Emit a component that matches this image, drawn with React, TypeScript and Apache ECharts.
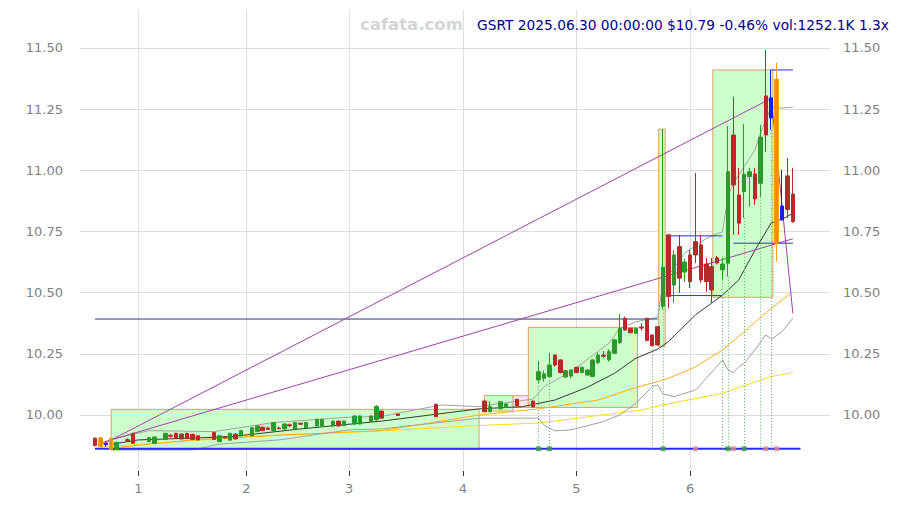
import React, { useEffect, useRef } from 'react';
import * as echarts from 'echarts';

// trading-day index k: 0 = 2025-01-02 (first trading day of January)
const monthStartDays = [0, 20, 39, 60, 81, 102];
const monthLabels = ['1', '2', '3', '4', '5', '6'];
const priceTicks = [10.0, 10.25, 10.5, 10.75, 11.0, 11.25, 11.5];

// [k, open, close, low, high]
const candles: number[][] = [
  [-8, 9.905, 9.875, 9.872, 9.908],
  [-7, 9.907, 9.87, 9.866, 9.91],
  [-6, 9.884, 9.878, 9.87, 9.888],
  [-5, 9.905, 9.86, 9.857, 9.907],
  [-4, 9.86, 9.888, 9.857, 9.891],
  [-2, 9.899, 9.894, 9.889, 9.905],
  [-1, 9.925, 9.884, 9.882, 9.927],
  [2, 9.891, 9.907, 9.889, 9.909],
  [3, 9.884, 9.91, 9.882, 9.912],
  [5, 9.9, 9.925, 9.898, 9.927],
  [6, 9.917, 9.913, 9.907, 9.922],
  [7, 9.925, 9.905, 9.903, 9.927],
  [8, 9.922, 9.902, 9.9, 9.924],
  [9, 9.925, 9.905, 9.903, 9.927],
  [10, 9.921, 9.9, 9.898, 9.923],
  [11, 9.915, 9.898, 9.896, 9.917],
  [14, 9.928, 9.9, 9.898, 9.93],
  [15, 9.891, 9.915, 9.889, 9.917],
  [16, 9.911, 9.906, 9.904, 9.913],
  [17, 9.897, 9.925, 9.895, 9.927],
  [18, 9.922, 9.902, 9.9, 9.924],
  [19, 9.914, 9.936, 9.912, 9.938],
  [21, 9.914, 9.948, 9.912, 9.95],
  [22, 9.932, 9.955, 9.93, 9.957],
  [23, 9.95, 9.936, 9.934, 9.952],
  [24, 9.947, 9.941, 9.939, 9.952],
  [25, 9.936, 9.969, 9.934, 9.971],
  [26, 9.947, 9.944, 9.941, 9.952],
  [27, 9.943, 9.963, 9.941, 9.965],
  [28, 9.96, 9.956, 9.95, 9.966],
  [29, 9.943, 9.969, 9.941, 9.971],
  [30, 9.966, 9.962, 9.96, 9.969],
  [31, 9.948, 9.969, 9.946, 9.971],
  [33, 9.955, 9.982, 9.953, 9.984],
  [34, 9.955, 9.982, 9.953, 9.984],
  [36, 9.955, 9.975, 9.953, 9.977],
  [37, 9.975, 9.955, 9.953, 9.977],
  [38, 9.956, 9.975, 9.954, 9.977],
  [40, 9.963, 9.996, 9.961, 9.998],
  [41, 9.963, 9.996, 9.961, 9.998],
  [43, 9.973, 9.996, 9.971, 9.998],
  [44, 9.98, 10.035, 9.978, 10.04],
  [45, 10.016, 9.987, 9.985, 10.018],
  [48, 10.004, 9.998, 9.997, 10.005],
  [55, 10.044, 9.993, 9.991, 10.046],
  [64, 10.057, 10.013, 10.011, 10.059],
  [65, 10.013, 10.034, 10.011, 10.057],
  [67, 10.025, 10.054, 10.023, 10.056],
  [68, 10.031, 10.045, 10.029, 10.047],
  [70, 10.064, 10.038, 10.036, 10.066],
  [73, 10.057, 10.033, 10.031, 10.059],
  [74, 10.143, 10.177, 10.13, 10.221],
  [75, 10.15, 10.168, 10.136, 10.181],
  [76, 10.157, 10.204, 10.155, 10.253],
  [77, 10.245, 10.204, 10.197, 10.247],
  [78, 10.225, 10.173, 10.17, 10.227],
  [79, 10.155, 10.181, 10.153, 10.183],
  [80, 10.159, 10.184, 10.15, 10.186],
  [81, 10.195, 10.173, 10.171, 10.197],
  [82, 10.173, 10.195, 10.171, 10.197],
  [83, 10.163, 10.184, 10.161, 10.186],
  [84, 10.157, 10.225, 10.155, 10.227],
  [85, 10.214, 10.245, 10.208, 10.255],
  [86, 10.245, 10.24, 10.232, 10.262],
  [87, 10.225, 10.259, 10.218, 10.269],
  [88, 10.252, 10.307, 10.25, 10.309],
  [89, 10.296, 10.354, 10.29, 10.413],
  [90, 10.395, 10.347, 10.345, 10.402],
  [91, 10.354, 10.336, 10.334, 10.356],
  [92, 10.334, 10.354, 10.332, 10.356],
  [93, 10.36, 10.355, 10.345, 10.375],
  [94, 10.395, 10.304, 10.302, 10.397],
  [95, 10.327, 10.283, 10.281, 10.329],
  [96, 10.361, 10.286, 10.284, 10.363],
  [97, 10.444, 10.604, 10.43, 11.168],
  [98, 10.736, 10.484, 10.437, 10.737],
  [99, 10.531, 10.654, 10.458, 10.674],
  [100, 10.688, 10.559, 10.499, 10.736],
  [101, 10.584, 10.625, 10.544, 10.638],
  [102, 10.654, 10.545, 10.519, 10.674],
  [103, 10.708, 10.654, 10.621, 10.989],
  [104, 10.695, 10.552, 10.54, 10.736],
  [105, 10.617, 10.545, 10.503, 10.642],
  [106, 10.606, 10.511, 10.458, 10.642],
  [107, 10.642, 10.621, 10.615, 10.65],
  [108, 10.593, 10.617, 10.552, 10.642],
  [109, 10.62, 10.994, 10.565, 11.181],
  [110, 11.144, 10.94, 10.736, 11.301],
  [111, 10.899, 10.784, 10.736, 11.01],
  [112, 10.913, 10.984, 10.805, 11.189],
  [113, 10.974, 10.994, 10.851, 11.01],
  [114, 10.985, 10.883, 10.858, 11.01],
  [115, 10.947, 11.135, 10.892, 11.185],
  [116, 11.304, 11.144, 11.076, 11.492],
  [117, 11.296, 11.214, 11.165, 11.41],
  [118, 11.372, 10.702, 10.627, 11.44],
  [119, 10.854, 10.797, 10.797, 11.001],
  [120, 10.977, 10.84, 10.805, 11.05],
  [121, 10.903, 10.79, 10.785, 11.01],
];
const orangeDays = [-7, -5, 118];
const blueDays = [-6, 117, 119];

const maBlack = [
  [-5, 9.88], [0, 9.898], [17, 9.911], [30, 9.943], [45, 9.975], [63, 10.025], [71, 10.034],
  [77, 10.061], [83, 10.113], [88, 10.17], [92, 10.232], [96, 10.269], [98, 10.3], [103, 10.409],
  [108, 10.49], [111, 10.552], [114, 10.674], [117, 10.785], [119, 10.8], [121, 10.824],
];
const maOrange = [
  [-5, 9.865], [10, 9.898], [26, 9.918], [45, 9.936], [63, 10.0], [74, 10.025], [85, 10.061],
  [92, 10.113], [96, 10.136], [98, 10.15], [103, 10.196], [108, 10.266], [112, 10.34], [117, 10.436], [121, 10.504],
];
const maYellow = [
  [-7, 9.869], [20, 9.91], [45, 9.935], [63, 9.957], [74, 9.967], [93, 10.02], [97, 10.041],
  [108, 10.089], [117, 10.157], [121, 10.173],
];
const bandUpper = [
  [-5, 9.9], [2, 9.936], [14, 9.932], [25, 9.969], [39, 9.991], [45, 9.994], [56, 10.041], [63, 10.034],
  [65, 10.041], [73, 10.065], [75, 10.116], [80, 10.177], [87, 10.293], [89, 10.354], [92, 10.381],
  [96, 10.399], [97, 10.538], [101, 10.661], [105, 10.722], [108, 10.749], [109, 10.892], [110, 10.947],
  [112, 11.015], [114, 11.083], [115, 11.151], [117, 11.26], [119, 11.254], [121, 11.258],
];
const bandLower = [
  [-5, 9.857], [10, 9.857], [15, 9.881], [26, 9.898], [39, 9.939], [45, 9.943], [63, 9.987], [74, 9.987],
  [75, 9.959], [77, 9.935], [80, 9.939], [86, 9.973], [89, 10.0], [92, 10.048], [95, 10.116], [96, 10.123],
  [97, 10.086], [99, 10.075], [103, 10.102], [105, 10.15], [108, 10.225], [109, 10.184], [110, 10.173],
  [111, 10.197], [112, 10.211], [114, 10.266], [116, 10.327], [117, 10.309], [119, 10.34], [121, 10.395],
];

// [kStart, kEnd, low, high, kind]
const boxes: [number, number, number, number, string][] = [
  [-5, 63, 9.86, 10.023, 'g'],
  [64, 69.3, 10.016, 10.079, 'g'],
  [69.3, 72.1, 10.031, 10.079, 'r'],
  [72.1, 92.3, 10.031, 10.358, 'g'],
  [96.2, 97.4, 10.279, 11.168, 'g'],
  [106.2, 117.3, 10.481, 11.41, 'g'],
];
// [kStart, kEnd, price]
const blueSegments = [
  [98, 108, 10.732],
  [98, 108, 10.488],
  [110, 121, 10.702],
  [117, 121, 11.41],
];
const darkSegment = [-8, 96, 10.392];
const baseSegment = [-8, 122.4, 9.862];
const purpleLines = [
  [[-7, 9.875], [117, 11.294]],
  [[-7, 9.885], [121, 10.72]],
  [[117, 11.294], [121, 10.415]],
];
// [k, price where the dotted line starts]
const signalDays = [[74, 10.13], [76, 10.155], [95, 10.281], [97, 10.43], [108, 10.552], [109, 10.565], [112, 10.805], [115, 10.892], [117, 11.165]];
const buyMarks = [74, 76, 97, 109, 112];
const sellMarks = [103, 110, 116, 118];

const titleText = 'GSRT 2025.06.30 00:00:00 $10.79 -0.46% vol:1252.1K 1.3x';
const watermarkText = 'cafata.com';

const GREEN = '#2b992b';
const RED = '#b52a2a';
const FONT = 'DejaVu Sans';

export default function App() {
  const ref = useRef<HTMLDivElement>(null);
  useEffect(() => {
    if (!ref.current) return;
    const chart = echarts.init(ref.current, undefined, { renderer: 'svg' });
    const line = (data: any, color: string, width: number, z = 3) => ({
      type: 'line', data, symbol: 'none', silent: true, z,
      lineStyle: { color, width }, xAxisIndex: 0, yAxisIndex: 0,
    });
    const candleData = candles.map((c) => {
      const k = c[0];
      if (orangeDays.includes(k)) {
        return { value: c, itemStyle: { color: '#ff8c00', color0: RED, borderColor: '#ff9a1a', borderColor0: '#ff9a1a' } };
      }
      if (blueDays.includes(k)) {
        return { value: c, itemStyle: { color: '#1a1aff', color0: '#1a1aff', borderColor: '#1a1aff', borderColor0: '#1a1aff' } };
      }
      return { value: c };
    });
    const series: any[] = [
      {
        type: 'line', data: [[baseSegment[0], baseSegment[2]]], symbol: 'none', silent: true, z: 1,
        lineStyle: { opacity: 0 },
        markArea: {
          silent: true,
          label: { show: false },
          data: boxes.map((b) => [
            { coord: [b[0], b[2]], itemStyle: { color: b[4] === 'g' ? '#ccffcc' : '#ffe6e6', borderColor: '#d9a066', borderWidth: 1 } },
            { coord: [b[1], b[3]] },
          ]),
        },
      },
      line(maYellow, '#ffd91a', 1),
      line(maOrange, '#ffaa22', 1),
      line(bandUpper, '#a0a0a0', 1),
      line(bandLower, '#a0a0a0', 1),
      line(maBlack, '#222222', 0.9),
      line([[darkSegment[0], darkSegment[2]], [darkSegment[1], darkSegment[2]]], '#33337a', 1),
      ...purpleLines.map((p) => line(p, '#a040a8', 1)),
      ...blueSegments.map((s) => line([[s[0], s[2]], [s[1], s[2]]], '#2a2aff', 1)),
      {
        type: 'line', data: [[baseSegment[0], baseSegment[2]], [baseSegment[1], baseSegment[2]]],
        symbol: 'none', silent: true, z: 4, lineStyle: { color: '#2a2aff', width: 2 },
        markLine: {
          silent: true, symbol: ['none', 'none'], label: { show: false },
          lineStyle: { color: '#5cb85c', width: 1, type: [1, 2] },
          data: signalDays.map((s) => [{ coord: [s[0], s[1]] }, { coord: [s[0], baseSegment[2]] }]),
        },
      },
      {
        type: 'candlestick', z: 5, barWidth: 4, encode: { x: 0, y: [1, 2, 3, 4] },
        itemStyle: { color: GREEN, color0: RED, borderColor: GREEN, borderColor0: RED, borderWidth: 1 },
        data: candleData,
      },
      {
        type: 'scatter', z: 6, symbol: 'rect', symbolSize: 5, silent: true,
        data: [
          ...buyMarks.map((k) => ({ value: [k, baseSegment[2]], itemStyle: { color: '#3a9a3a' } })),
          ...sellMarks.map((k) => ({ value: [k, baseSegment[2]], itemStyle: { color: '#e08a8a' } })),
        ],
      },
    ];
    const yAxisBase = (position: string, split: boolean) => ({
      type: 'value', position, min: 9.771, max: 11.655, scale: true,
      axisLine: { show: false },
      axisTick: { show: false, customValues: priceTicks },
      splitLine: { show: split, lineStyle: { color: '#dddddd', width: 1 } },
      axisLabel: {
        customValues: priceTicks, color: '#808080', fontSize: 13, fontFamily: FONT,
        margin: position === 'left' ? 17 : 13,
        formatter: (v: number) => v.toFixed(2),
      },
    });
    chart.setOption({
      animation: false,
      backgroundColor: '#ffffff',
      textStyle: { fontFamily: FONT },
      grid: { left: 80, right: 69, top: 10, bottom: 34 },
      xAxis: {
        type: 'value', min: -10.77, max: 127.86,
        axisLine: { show: false },
        axisTick: { show: true, customValues: monthStartDays, length: 5, lineStyle: { color: '#333333' } },
        splitLine: { show: true, lineStyle: { color: '#dddddd', width: 1 } },
        axisLabel: {
          customValues: monthStartDays, color: '#808080', fontSize: 13, fontFamily: FONT, margin: 11,
          formatter: (v: number) => monthLabels[monthStartDays.indexOf(Math.round(v))] ?? '',
        },
      },
      yAxis: [yAxisBase('left', true), yAxisBase('right', false)],
      graphic: [
        { type: 'text', left: 360, top: 16, z: 10, style: { text: watermarkText, fill: '#d4d4d4', font: `bold 16.5px "${FONT}"` } },
        { type: 'text', right: 10, top: 18, z: 10, style: { text: titleText, fill: '#00008b', font: `13.75px "${FONT}"` } },
      ],
      series,
    });
    return () => chart.dispose();
  }, []);
  return <div ref={ref} style={{ position: 'fixed', left: 0, top: 0, width: 899, height: 505 }} />;
}
